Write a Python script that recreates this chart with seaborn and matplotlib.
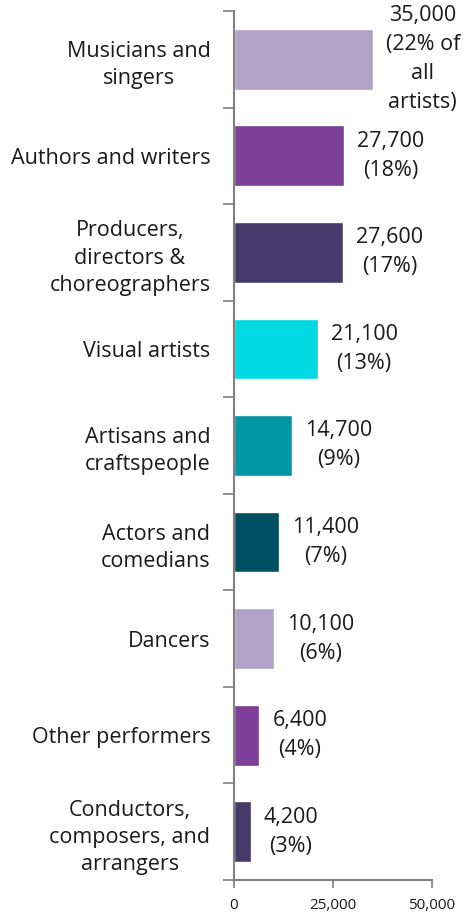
import matplotlib
matplotlib.use("Agg")
import matplotlib.pyplot as plt
from matplotlib.ticker import FixedLocator
import seaborn as sns
import pandas as pd

categories = [
    "Musicians and\nsingers",
    "Authors and writers",
    "Producers,\ndirectors &\nchoreographers",
    "Visual artists",
    "Artisans and\ncraftspeople",
    "Actors and\ncomedians",
    "Dancers",
    "Other performers",
    "Conductors,\ncomposers, and\narrangers",
]
counts = [35000, 27700, 27600, 21100, 14700, 11400, 10100, 6400, 4200]
shares = [22, 18, 17, 13, 9, 7, 6, 4, 3]
colors = ["#b3a2c7", "#7e3f98", "#463a6b", "#00d9e1", "#0096a4",
          "#004f63", "#b3a2c7", "#7e3f98", "#463a6b"]
x_ticks = [0, 25000, 50000]

sns.set_theme(style="white")
plt.rcParams["font.family"] = ["Open Sans", "DejaVu Sans"]
text_color = "#1a1a1a"
spine_color = "#7f7f7f"

df = pd.DataFrame({"category": categories, "count": counts})

fig = plt.figure(figsize=(4.69, 9.15), dpi=100)
ax = fig.add_axes([234 / 469, 35 / 915, 198 / 469, 869 / 915])

sns.barplot(data=df, y="category", x="count", hue="category",
            palette=colors, legend=False, width=0.63, saturation=1,
            orient="h", ax=ax)

ax.set_xlim(0, 50000)
ax.set_ylim(len(categories) - 0.5, -0.5)
ax.set_xlabel("")
ax.set_ylabel("")

# value labels beside each bar
for i, (v, p) in enumerate(zip(counts, shares)):
    share = f"({p}% of\nall\nartists)" if i == 0 else f"({p}%)"
    ax.annotate(f"{v:,}\n{share}", xy=(v, i), xytext=(13, 0),
                textcoords="offset pixels",
                ha="left", va="center", multialignment="center",
                fontsize=15.5, color=text_color, linespacing=1.5)

# category labels centered on each band, tick marks at band edges
ax.yaxis.set_major_locator(FixedLocator(range(len(categories))))
ax.set_yticklabels(categories, multialignment="center", linespacing=1.4)
ax.yaxis.set_minor_locator(FixedLocator([i - 0.5 for i in range(len(categories) + 1)]))
ax.tick_params(axis="y", which="major", length=0, pad=17,
               labelsize=15.5, labelcolor=text_color)
ax.tick_params(axis="y", which="minor", length=8, width=1.2,
               color=spine_color, direction="out", left=True)

ax.set_xticks(x_ticks)
ax.set_xticklabels([f"{t:,}" for t in x_ticks])
ax.tick_params(axis="x", which="major", length=6, width=1.2,
               color=spine_color, direction="out", bottom=True,
               labelsize=11, labelcolor=text_color, pad=7)

for side in ("top", "right"):
    ax.spines[side].set_visible(False)
for side in ("left", "bottom"):
    ax.spines[side].set_color(spine_color)
    ax.spines[side].set_linewidth(1.5)

fig.savefig("out.png", dpi=100)
